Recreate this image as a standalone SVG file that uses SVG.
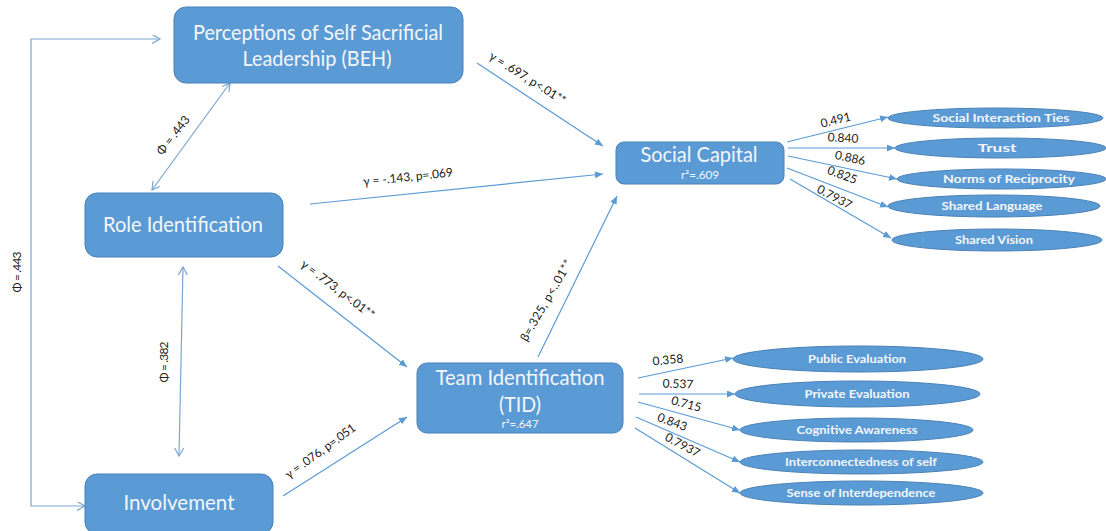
<svg xmlns="http://www.w3.org/2000/svg" width="1106" height="531" viewBox="0 0 1106 531">
<style>
.node{fill:#5B9BD5;stroke:#4A80B5;stroke-width:1}
.ntxt{font-family:Lato,"Liberation Sans",Arial,sans-serif;fill:#F4F6FA;text-anchor:middle}
.big{font-size:21px}
.small{font-size:11px}
.etxt{font-family:Lato,"Liberation Sans",Arial,sans-serif;font-weight:bold;font-size:12px;fill:#F4F6FA;text-anchor:middle}
.path{fill:none;stroke:#5B9BD5;stroke-width:1.2;marker-end:url(#af)}
.corr{fill:none;stroke:#7AA6D2;stroke-width:1.2;marker-start:url(#ao);marker-end:url(#ao)}
.lbl{font-family:Lato,"Liberation Sans",Arial,sans-serif;font-size:12px;fill:#222;text-anchor:middle;dominant-baseline:middle}
</style>
<defs>
<marker id="af" markerUnits="userSpaceOnUse" markerWidth="9" markerHeight="8" refX="8" refY="3.5" orient="auto">
<path d="M0,0 L8,3.5 L0,7 z" fill="#5B9BD5"/>
</marker>
<marker id="ao" markerUnits="userSpaceOnUse" markerWidth="10" markerHeight="10" refX="8" refY="4.5" orient="auto-start-reverse">
<path d="M0,0 L8,4.5 L0,9" fill="none" stroke="#7AA6D2" stroke-width="1.2"/>
</marker>
</defs>
<rect width="1106" height="531" fill="#FFFFFF"/>
<g id="connectors">
<path class="corr" d="M160,39 H31 V506 H85"/>
<path class="corr" d="M230,83 L152,190"/>
<path class="corr" d="M183,267 L179,456"/>
<path class="path" d="M477,63 L603,146"/>
<path class="path" d="M310,204 L603,174"/>
<path class="path" d="M278,266 L407,367"/>
<path class="path" d="M283,496 L407,417"/>
<path class="path" d="M538,357 L617,196"/>
<path class="path" d="M787,142 L888,117"/>
<path class="path" d="M788,148 L895,148"/>
<path class="path" d="M788,156 L897,179"/>
<path class="path" d="M787,168 L888,207"/>
<path class="path" d="M790,179 L891,238"/>
<path class="path" d="M638,378 L733,358"/>
<path class="path" d="M639,394 L735,394"/>
<path class="path" d="M638,402 L740,430"/>
<path class="path" d="M636,417 L740,462"/>
<path class="path" d="M635,428 L740,493"/>
<text class="lbl" transform="translate(18,272) rotate(-90)" textLength="41">Φ = .443</text>
<text class="lbl" transform="translate(174,136) rotate(-52)" textLength="46">Φ = .443</text>
<text class="lbl" transform="translate(165,362) rotate(-90)" textLength="41">Φ = .382</text>
<text class="lbl" transform="translate(527,79) rotate(32)" textLength="88">γ = .697, p&lt;.01**</text>
<text class="lbl" transform="translate(408,178) rotate(-6)" textLength="90">γ = -.143, p=.069</text>
<text class="lbl" transform="translate(337,290) rotate(37)" textLength="89">γ = .773, p&lt;.01**</text>
<text class="lbl" transform="translate(321,452) rotate(-36)" textLength="84">γ = .076, p=.051</text>
<text class="lbl" transform="translate(547,301) rotate(-60)" textLength="92">β=.325, p&lt;..01**</text>
<text class="lbl" transform="translate(836,121) rotate(-14)">0.491</text>
<text class="lbl" transform="translate(843,139) rotate(3)">0.840</text>
<text class="lbl" transform="translate(850,159) rotate(12)">0.886</text>
<text class="lbl" transform="translate(842,176) rotate(20)">0.825</text>
<text class="lbl" transform="translate(834,198) rotate(28)">0.7937</text>
<text class="lbl" transform="translate(668,361) rotate(-6)">0.358</text>
<text class="lbl" transform="translate(678,385) rotate(2)">0.537</text>
<text class="lbl" transform="translate(686,405) rotate(15)">0.715</text>
<text class="lbl" transform="translate(672,423) rotate(20)">0.843</text>
<text class="lbl" transform="translate(682,446) rotate(28)">0.7937</text>
</g>
<g id="node-beh">
<rect class="node" x="174" y="7" width="289" height="76" rx="12"/>
<text class="ntxt big" x="318" y="40" textLength="250" lengthAdjust="spacingAndGlyphs">Perceptions of Self Sacrificial</text>
<text class="ntxt big" x="317" y="66" textLength="149" lengthAdjust="spacingAndGlyphs">Leadership (BEH)</text>
</g>
<g id="node-role">
<rect class="node" x="85" y="193" width="198" height="64" rx="12"/>
<text class="ntxt big" x="183" y="232" textLength="160" lengthAdjust="spacingAndGlyphs">Role Identification</text>
</g>
<g id="node-involvement">
<rect class="node" x="85" y="474" width="188" height="60" rx="12"/>
<text class="ntxt big" x="179" y="510" textLength="111" lengthAdjust="spacingAndGlyphs">Involvement</text>
</g>
<g id="node-tid">
<rect class="node" x="417" y="363" width="206" height="70" rx="10"/>
<text class="ntxt big" x="520" y="385" textLength="169" lengthAdjust="spacingAndGlyphs">Team Identification</text>
<text class="ntxt big" x="520" y="412" textLength="42" lengthAdjust="spacingAndGlyphs">(TID)</text>
<text class="ntxt small" x="520" y="428" textLength="37" lengthAdjust="spacingAndGlyphs">r²=.647</text>
</g>
<g id="node-sc">
<rect class="node" x="616" y="142" width="168" height="42" rx="8"/>
<text class="ntxt big" x="699" y="162" textLength="117" lengthAdjust="spacingAndGlyphs">Social Capital</text>
<text class="ntxt small" x="700" y="179" textLength="38" lengthAdjust="spacingAndGlyphs">r²=.609</text>
</g>
<g id="node-sit">
<ellipse class="node" cx="995.5" cy="118" rx="107.5" ry="10"/>
<text class="etxt" x="1001" y="122" textLength="137" lengthAdjust="spacingAndGlyphs">Social Interaction Ties</text>
</g>
<g id="node-trust">
<ellipse class="node" cx="1000.5" cy="148" rx="105.5" ry="10"/>
<text class="etxt" x="997" y="152" textLength="39" lengthAdjust="spacingAndGlyphs">Trust</text>
</g>
<g id="node-norms">
<ellipse class="node" cx="1001.5" cy="179" rx="104.5" ry="10"/>
<text class="etxt" x="1009" y="183" textLength="132" lengthAdjust="spacingAndGlyphs">Norms of Reciprocity</text>
</g>
<g id="node-language">
<ellipse class="node" cx="994" cy="206" rx="106" ry="11"/>
<text class="etxt" x="992" y="210" textLength="101" lengthAdjust="spacingAndGlyphs">Shared Language</text>
</g>
<g id="node-vision">
<ellipse class="node" cx="997" cy="240" rx="105" ry="11"/>
<text class="etxt" x="994" y="244" textLength="78" lengthAdjust="spacingAndGlyphs">Shared Vision</text>
</g>
<g id="node-public">
<ellipse class="node" cx="858" cy="359" rx="125" ry="13"/>
<text class="etxt" x="857" y="363" textLength="98" lengthAdjust="spacingAndGlyphs">Public Evaluation</text>
</g>
<g id="node-private">
<ellipse class="node" cx="857.5" cy="394" rx="122.5" ry="13"/>
<text class="etxt" x="857" y="398" textLength="105" lengthAdjust="spacingAndGlyphs">Private Evaluation</text>
</g>
<g id="node-cognitive">
<ellipse class="node" cx="856.5" cy="430" rx="116.5" ry="12"/>
<text class="etxt" x="857" y="434" textLength="121" lengthAdjust="spacingAndGlyphs">Cognitive Awareness</text>
</g>
<g id="node-interconnect">
<ellipse class="node" cx="861.5" cy="462" rx="121.5" ry="12"/>
<text class="etxt" x="861" y="466" textLength="152" lengthAdjust="spacingAndGlyphs">Interconnectedness of self</text>
</g>
<g id="node-interdep">
<ellipse class="node" cx="861.5" cy="493" rx="121.5" ry="12"/>
<text class="etxt" x="861" y="497" textLength="149" lengthAdjust="spacingAndGlyphs">Sense of Interdependence</text>
</g>
</svg>
